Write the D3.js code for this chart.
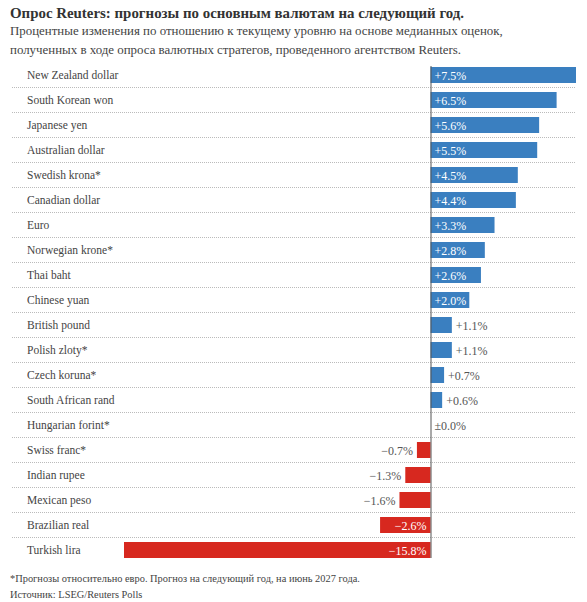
<html>
<head>
<script src="https://cdnjs.cloudflare.com/ajax/libs/d3/7.8.5/d3.min.js"></script>
<style>
body { margin: 0; background: #fff; }
</style>
</head>
<body></body>
<script>
var currencies = ["New Zealand dollar", "South Korean won", "Japanese yen", "Australian dollar",
  "Swedish krona*", "Canadian dollar", "Euro", "Norwegian krone*", "Thai baht", "Chinese yuan",
  "British pound", "Polish zloty*", "Czech koruna*", "South African rand", "Hungarian forint*",
  "Swiss franc*", "Indian rupee", "Mexican peso", "Brazilian real", "Turkish lira"];
var changes = [7.5, 6.5, 5.6, 5.5, 4.5, 4.4, 3.3, 2.8, 2.6, 2.0,
  1.1, 1.1, 0.7, 0.6, 0.0, -0.7, -1.3, -1.6, -2.6, -15.8];
var title = "Опрос Reuters: прогнозы по основным валютам на следующий год.";
var subtitle = ["Процентные изменения по отношению к текущему уровню на основе медианных оценок,",
  "полученных в ходе опроса валютных стратегов, проведенного агентством Reuters."];
var notes = ["*Прогнозы относительно евро. Прогноз на следующий год, на июнь 2027 года.",
  "Источник: LSEG/Reuters Polls"];

var screen = {width: 587, height: 602};
var svg = d3.select("body").append("svg")
  .attr("width", screen.width)
  .attr("height", screen.height)
  .attr("font-family", "'Liberation Serif', 'Times New Roman', serif");

svg.append("text").attr("x", 10).attr("y", 18)
  .attr("font-size", 14.9).attr("font-weight", "bold").attr("fill", "#333")
  .text(title);
svg.selectAll(".sub").data(subtitle).enter().append("text")
  .attr("x", 10).attr("y", function (d, i) { return 35 + i * 18.5; })
  .attr("font-size", 12.9).attr("fill", "#444")
  .text(function (d) { return d; });

var x = d3.scaleLinear().domain([d3.min(changes), d3.max(changes)]).range([124, 576]);
var y = d3.scaleBand().domain(currencies).range([62, 562]).paddingInner(0).paddingOuter(0);

function fmt(v) {
  if (v === 0) return "\u00b10.0%";
  return (v > 0 ? "+" : "\u2212") + Math.abs(v).toFixed(1) + "%";
}

var rows = svg.selectAll(".row").data(currencies).enter().append("g")
  .attr("transform", function (d) { return "translate(0," + y(d) + ")"; });

rows.filter(function (d, i) { return i < currencies.length - 1; })
  .append("line")
  .attr("x1", 12).attr("x2", 576)
  .attr("y1", y.bandwidth() + 0.5).attr("y2", y.bandwidth() + 0.5)
  .attr("stroke", "#bbb").attr("stroke-width", 1).attr("stroke-dasharray", "1,1");

rows.append("text")
  .attr("x", 27).attr("y", 16.5)
  .attr("font-size", 11.5).attr("fill", "#444")
  .text(function (d) { return d; });

rows.append("rect")
  .attr("x", function (d, i) { return x(Math.min(0, changes[i])); })
  .attr("y", 5)
  .attr("width", function (d, i) { return Math.abs(x(changes[i]) - x(0)); })
  .attr("height", 16)
  .attr("fill", function (d, i) { return changes[i] >= 0 ? "#3a7fc0" : "#d7281f"; });

rows.append("text")
  .attr("y", 17.5)
  .attr("font-size", 12)
  .each(function (d, i) {
    var v = changes[i];
    var w = Math.abs(x(v) - x(0));
    var inside = w > 36;
    var t = d3.select(this).text(fmt(v));
    if (v >= 0) {
      t.attr("text-anchor", "start")
        .attr("x", inside ? x(0) + 4 : x(v) + 4);
    } else {
      t.attr("text-anchor", "end")
        .attr("x", inside ? x(0) - 4 : x(v) - 4);
    }
    t.attr("fill", inside ? "#fff" : "#555");
  });

svg.append("line")
  .attr("x1", x(0) + 0.5).attr("x2", x(0) + 0.5)
  .attr("y1", 66).attr("y2", 558)
  .attr("stroke", "#555").attr("stroke-width", 1);

svg.selectAll(".note").data(notes).enter().append("text")
  .attr("x", 10).attr("y", function (d, i) { return 582 + i * 16; })
  .attr("font-size", 10.4).attr("fill", "#444")
  .text(function (d) { return d; });
</script>
</html>
